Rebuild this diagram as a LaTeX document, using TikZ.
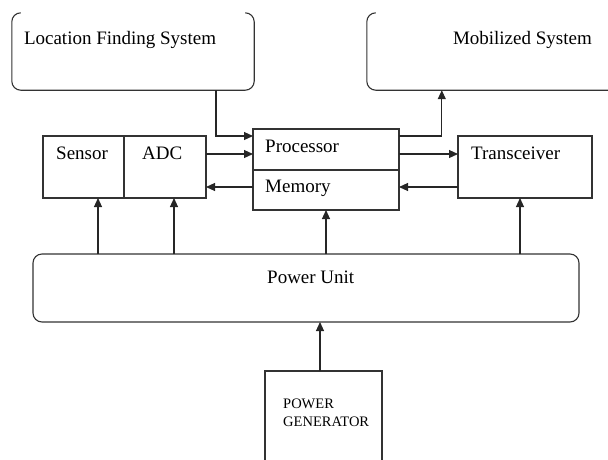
\documentclass[tikz,border=0pt]{standalone}
\usepackage{fontspec}
\setmainfont{Liberation Serif}
\newfontfamily\letraserif{Liberation Serif}
\usetikzlibrary{arrows.meta,positioning}

\begin{document}
\begin{tikzpicture}[
        x=1pt, y=-1pt,
        bloque/.style={draw=black!80, line width=1.1pt, inner sep=0pt, outer sep=0pt},
        marco/.style={draw=black!80, line width=1.1pt, rounded corners=9pt},
        texto/.style={inner sep=0pt, anchor=base west, font=\letraserif\fontsize{19}{22}\selectfont},
        flecha/.style={-{Triangle[length=9pt, width=8pt]}, draw=black!85, line width=1.1pt}
    ]
        \useasboundingbox (0,0) rectangle (608,459);

        % sistemas de arriba (sin borde superior)
        \node[inner sep=0pt, minimum width=242pt, minimum height=77pt] (loc) at (133,51.5) {};
        \node[inner sep=0pt, minimum width=253pt, minimum height=77pt] (mob) at (493.5,51.5) {};
        \draw[marco] ([xshift=9pt]loc.north west) -- (loc.north west) -- (loc.south west) -- (loc.south east) -- (loc.north east) -- ([xshift=-9pt]loc.north east);
        \draw[marco] ([xshift=9pt]mob.north west) -- (mob.north west) -- (mob.south west) -- (mob.south east) -- (mob.north east) -- ([xshift=-9pt]mob.north east);
        \node[texto] (locT) at ([xshift=12pt, yshift=-32pt]loc.north west) {Location Finding System};
        \node[texto] (mobT) at ([xshift=86pt, yshift=-32pt]mob.north west) {Mobilized System};

        % bloques del nodo
        \node[bloque, minimum width=81pt, minimum height=62pt] (sens) at (83.5,167) {};
        \node[bloque, minimum width=82pt, minimum height=62pt, right=0pt of sens] (adc) {};
        \node[bloque, minimum width=146pt, minimum height=41pt] (proc) at (326,149.5) {};
        \node[bloque, minimum width=146pt, minimum height=40pt, below=0pt of proc] (mem) {};
        \node[bloque, minimum width=134pt, minimum height=62pt] (trx) at (525,167) {};
        \node[bloque, rounded corners=9pt, minimum width=546pt, minimum height=68pt] (pwr) at (306,288) {};
        \node[bloque, minimum width=117pt, minimum height=100pt] (gen) at (323.5,421) {};

        \node[texto] (sensT) at ([xshift=13pt, yshift=-23pt]sens.north west) {Sensor};
        \node[texto] (adcT) at ([xshift=18pt, yshift=-23pt]adc.north west) {ADC};
        \node[texto] (procT) at ([xshift=12pt, yshift=-23pt]proc.north west) {Processor};
        \node[texto] (memT) at ([xshift=12pt, yshift=-22pt]mem.north west) {Memory};
        \node[texto] (trxT) at ([xshift=13pt, yshift=-23pt]trx.north west) {Transceiver};
        \node[texto] (pwrT) at ([xshift=234pt, yshift=-29pt]pwr.north west) {Power Unit};
        \node[texto, anchor=north west, align=left, font=\letraserif\fontsize{14.5}{18}\selectfont] (genT) at ([xshift=18pt, yshift=-27.5pt]gen.north west) {POWER\\GENERATOR};

        % conexiones
        \draw[flecha] ([xshift=83pt]loc.south) |- ([yshift=-7pt]proc.north west);
        \draw[flecha] ([yshift=-7pt]proc.north east) -| ([xshift=75pt]mob.south west);
        \draw[flecha] ([yshift=-18pt]adc.north east) -- ([yshift=-18pt]adc.north east -| proc.west);
        \draw[flecha] ([yshift=3pt]mem.west) -- ([yshift=3pt]mem.west -| adc.east);
        \draw[flecha] ([yshift=-4.5pt]proc.east) -- ([yshift=-4.5pt]proc.east -| trx.west);
        \draw[flecha] ([yshift=3pt]mem.east -| trx.west) -- ([yshift=3pt]mem.east);

        \draw[flecha] ([xshift=14.5pt]sens.south |- pwr.north) -- ([xshift=14.5pt]sens.south);
        \draw[flecha] ([xshift=9pt]adc.south |- pwr.north) -- ([xshift=9pt]adc.south);
        \draw[flecha] (mem.south |- pwr.north) -- (mem.south);
        \draw[flecha] ([xshift=-5pt]trx.south |- pwr.north) -- ([xshift=-5pt]trx.south);
        \draw[flecha] ([xshift=-3.5pt]gen.north) -- ([xshift=-3.5pt]gen.north |- pwr.south);
    \end{tikzpicture}
\end{document}
